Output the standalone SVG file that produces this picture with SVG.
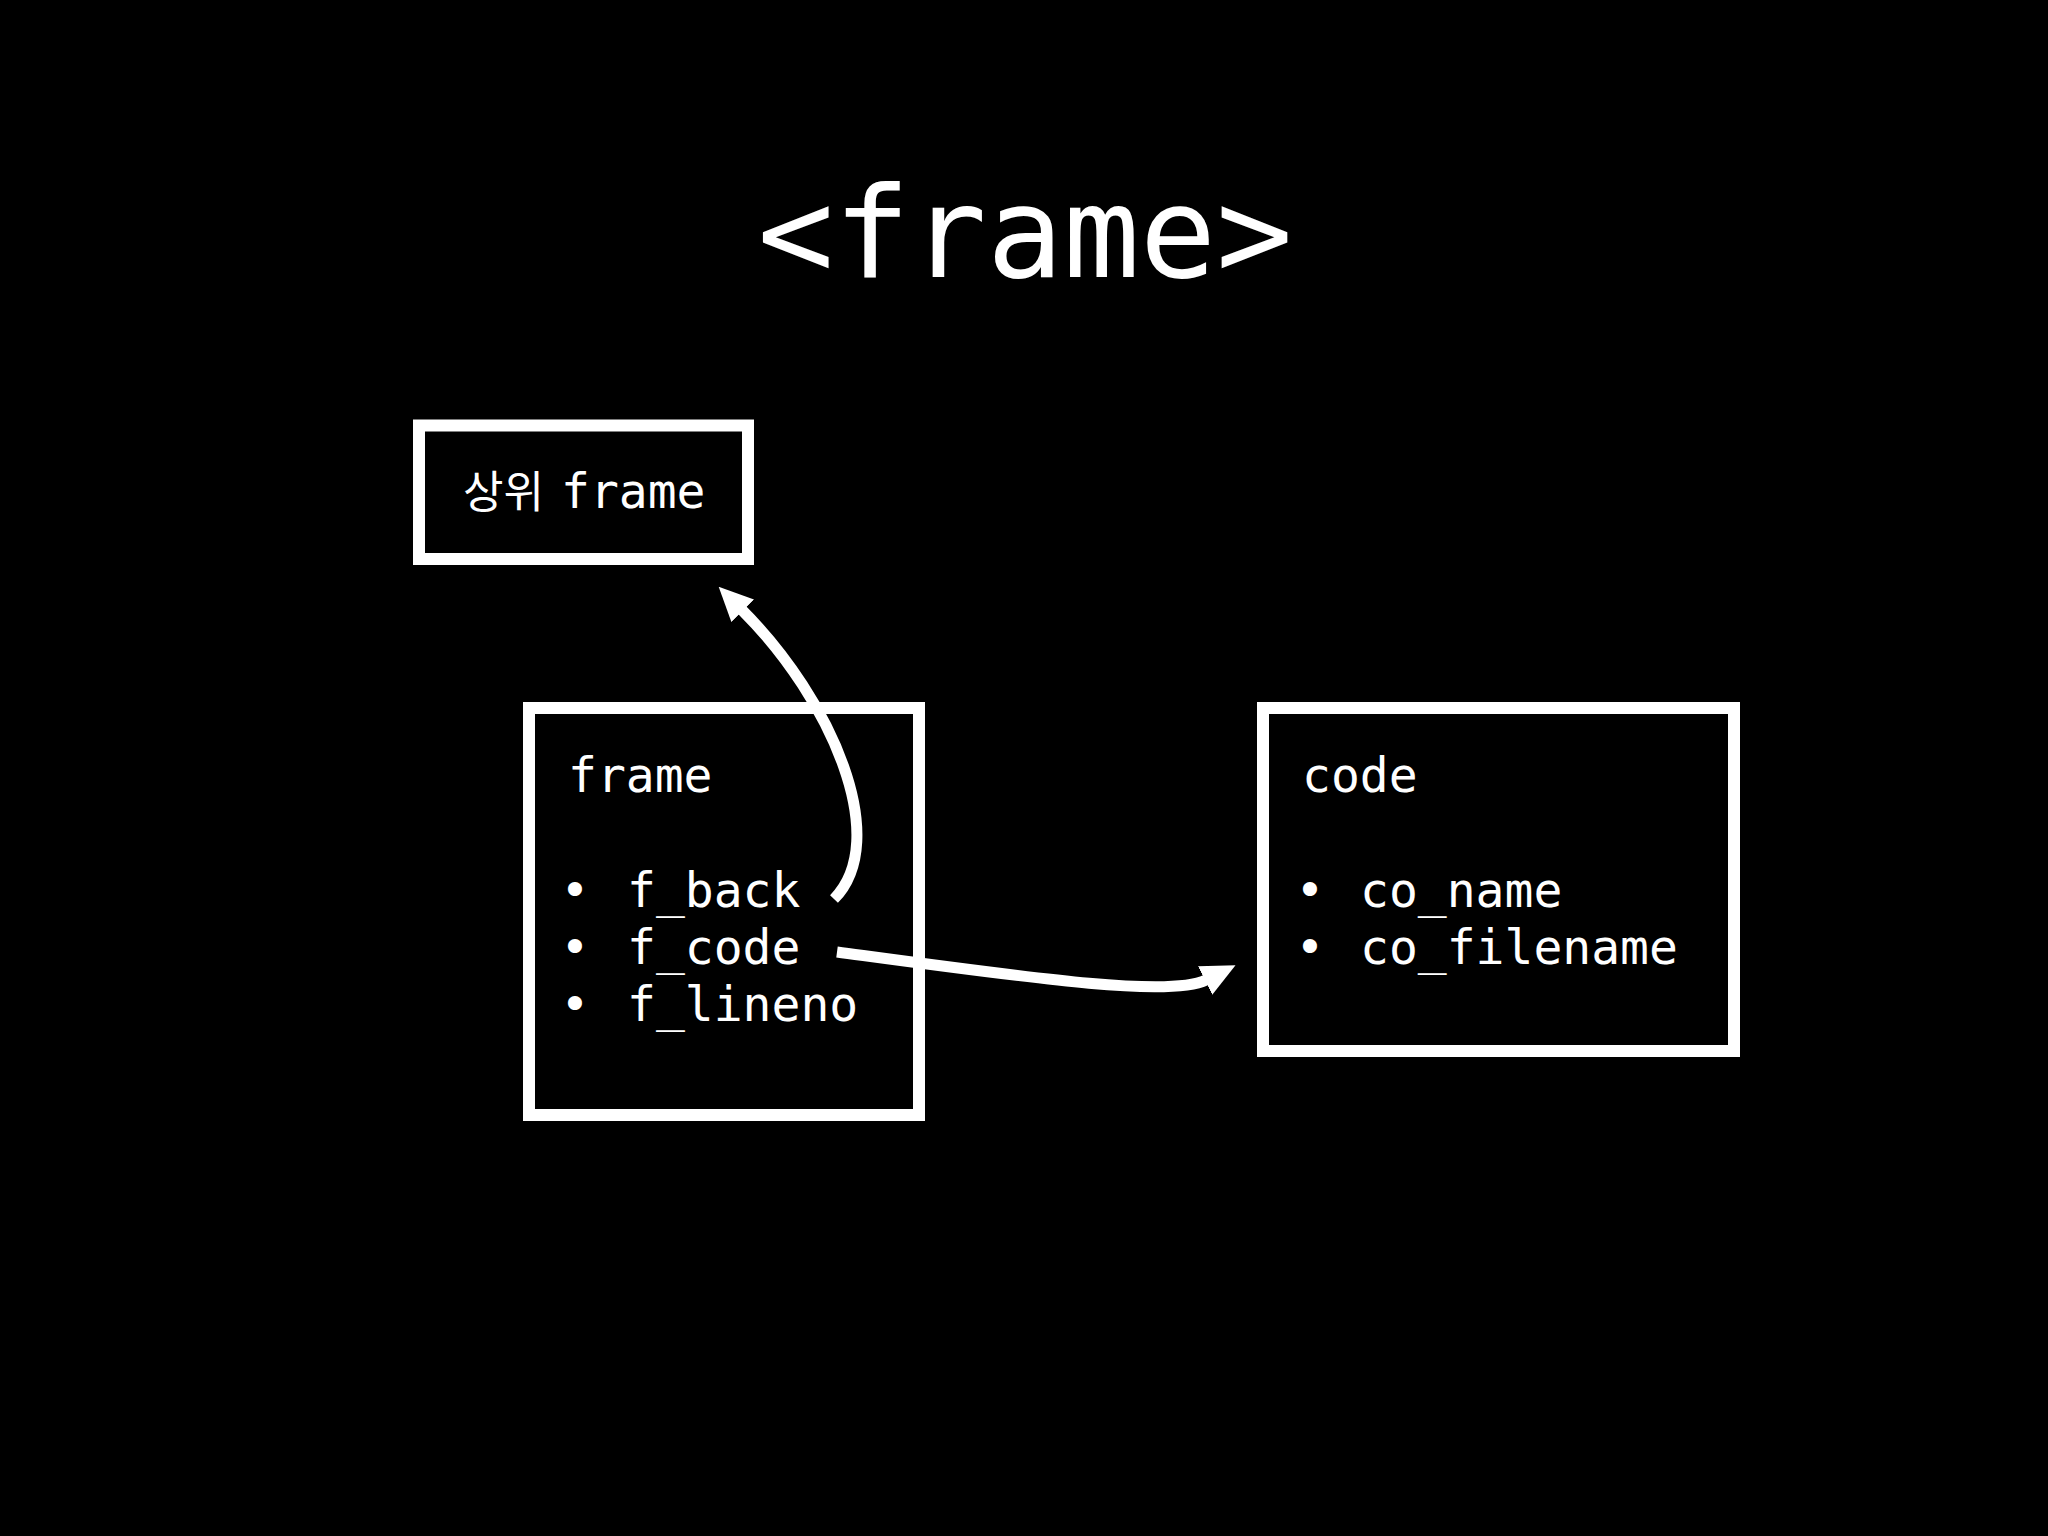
<svg xmlns="http://www.w3.org/2000/svg" width="2048" height="1536" viewBox="0 0 2048 1536">
<defs>
<style>
.bg{fill:#000}
.box{fill:none;stroke:#fff;stroke-width:12}
.t{fill:#fff;font-family:"DejaVu Sans Mono","Noto Sans CJK KR",monospace;font-size:48px}
.kr{font-family:"Noto Sans CJK KR","DejaVu Sans",sans-serif;font-size:44px}
.title{fill:#fff;font-family:"DejaVu Sans Mono",monospace;font-size:127px}
.conn{fill:none;stroke:#fff;stroke-width:11}
</style>
<marker id="ah" viewBox="0 0 34 32" markerWidth="34" markerHeight="32" refX="1" refY="16" orient="auto" markerUnits="userSpaceOnUse">
<path d="M0,0 L34,16 L0,32 z" fill="#fff"/>
</marker>
</defs>
<rect class="bg" x="0" y="0" width="2048" height="1536"/>
<text class="title" x="1025" y="277" text-anchor="middle">&lt;frame&gt;</text>
<g id="parent-frame">
<rect class="box" x="419" y="425.5" width="329" height="133.5"/>
<text class="t" y="508"><tspan class="kr" x="463">상위</tspan><tspan x="561">frame</tspan></text>
</g>
<g id="frame">
<rect class="box" x="529" y="708" width="390" height="407"/>
<text class="t" x="568" y="792">frame</text>
<text class="t" x="575" y="907" text-anchor="middle">•</text>
<text class="t" x="627" y="907">f_back</text>
<text class="t" x="575" y="964" text-anchor="middle">•</text>
<text class="t" x="627" y="964">f_code</text>
<text class="t" x="575" y="1021" text-anchor="middle">•</text>
<text class="t" x="627" y="1021">f_lineno</text>
</g>
<g id="code">
<rect class="box" x="1263" y="708" width="471" height="343"/>
<text class="t" x="1302" y="792">code</text>
<text class="t" x="1310" y="907" text-anchor="middle">•</text>
<text class="t" x="1360" y="907">co_name</text>
<text class="t" x="1310" y="964" text-anchor="middle">•</text>
<text class="t" x="1360" y="964">co_filename</text>
</g>
<g id="connectors">
<path class="conn" d="M834,899 C892,840 832,700 742,610" marker-end="url(#ah)"/>
<path class="conn" d="M837,952 C1030,978 1170,998 1206,980" marker-end="url(#ah)"/>
</g>
</svg>
